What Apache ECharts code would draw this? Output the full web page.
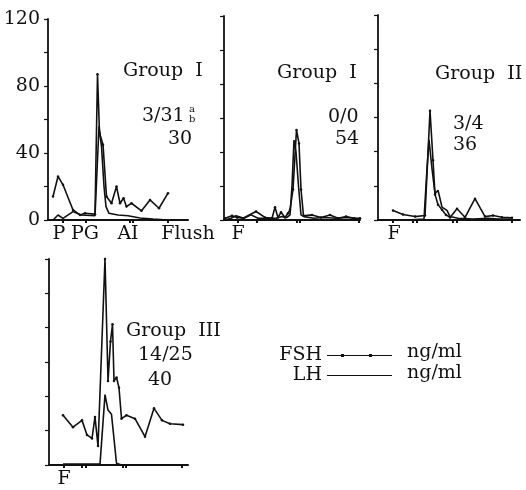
<!DOCTYPE html>
<html>
<head>
<meta charset="utf-8">
<script src="https://cdn.jsdelivr.net/npm/echarts@6/dist/echarts.min.js"></script>
<style>
  html, body { margin: 0; padding: 0; background: #fff; }
  #chart { width: 526px; height: 490px; }
</style>
</head>
<body>
<div id="chart"></div>
<script>
// Hormone profiles (ng/ml) against time for each treatment group.
// x = time along each panel's axis, y = concentration.

// Group I (P / PG / AI / Flush protocol)
const fsh1 = [[5,14],[10,26],[15,21],[25,6],[32,3],[37,4],[47,3.5],[49.5,87],[51.5,52],[55,45],[58.5,14],[63.5,10],[68.5,20],[72,10],[75.5,13],[78.5,8],[83.5,10],[93.5,5.5],[102,12],[111,7],[120,16]];
const lh1  = [[5,0],[10,3],[15,1],[25,5],[33,3],[47,2.5],[51,56],[53.5,44],[56,20],[58,8],[61,4],[70,3],[80,2.5],[92,1.2],[105,0.5],[120,0]];

// Group I, second set
const fsh2 = [[1,1],[8,2.5],[13,1.5],[19,1],[32,5],[41,1.5],[48,1],[51,7.5],[54,1.5],[57,4.5],[61,1.5],[64,4],[66,6],[69,18],[72.5,53],[75,45],[77,18],[79.5,2.5],[88,3],[97,1.5],[106,3],[114,1],[122,2],[130,1],[136,1]];
const lh2  = [[1,0],[7,1],[12,2.5],[20,1],[27,3],[34,1],[44,1],[52,1],[58,2],[63,1.5],[66,3],[68,20],[70,47],[72,40],[74.5,20],[77,3],[80,2],[90,1],[100,1.5],[112,1],[124,1.5],[136,0.5]];

// Group II
const fsh3 = [[15,5.6],[25,3.2],[37,2],[47,2.6],[52,64],[55,35],[57,15],[60,9],[64,6],[68,3],[72,1.5],[79,6.6],[87,1.6],[97,12.5],[107,2],[115,2.6],[124,1.6],[134,1.3]];
const lh3  = [[15,0],[30,0],[46,0.5],[49,30],[51,47],[54,30],[57,15.4],[60,17.4],[64,7.5],[69,5.6],[72,2],[80,1],[95,0.5],[110,1],[120,0.5],[134,0.5]];

// Group III
const fsh4 = [[14,29],[24,22],[33,26],[38,17.5],[43,15.5],[46,28],[49,11],[56,120],[59,49],[61.5,72],[63.5,82],[65,49],[67.5,51],[70,45],[72.5,27],[77.5,29],[86,27],[96,16.5],[105,33],[113,26],[121,24],[134,23.5]];
const lh4  = [[14,0.5],[30,0.5],[45,0.5],[51,0.5],[56,41],[59,32],[62.5,29.5],[67.5,1],[72.5,0],[100,0],[134,0]];

// Event markers on the time axes and their labels
const ticks1 = [15, 38, 82, 85, 120];
const labelPos1 = [11, 37, 80, 140];
const labels1 = ['P', 'PG', 'AI', 'Flush'];
const ticks2 = [14, 33, 73, 76, 135];
const ticks3 = [15, 35, 39, 75, 79, 134];
const ticks4 = [15, 33, 37, 74, 77, 133];
const labelPosF = [15];
const labelsF = ['F'];

// Concentration axis
const yMax = 120;
const yStep = 20;
const yLabelValues = [0, 40, 80, 120];

// Panel annotations: group name, ratio, count
const groupNames = ['Group  I', 'Group  I', 'Group  II', 'Group  III'];
const ratios = ['3/31', '0/0', '3/4', '14/25'];
const counts = ['30', '54', '36', '40'];

const FONT = '"DejaVu Serif", "Liberation Serif", serif';
const INK = '#111';

const panels = [
  { fsh: fsh1, lh: lh1, max: 140, ticks: ticks1, lp: labelPos1, lt: labels1, yLabels: true,
    box: { left: 48, top: 19, width: 140, height: 201 } },
  { fsh: fsh2, lh: lh2, max: 136, ticks: ticks2, lp: [14], lt: labelsF, yLabels: false,
    box: { left: 224, top: 16, width: 136, height: 204 } },
  { fsh: fsh3, lh: lh3, max: 142, ticks: ticks3, lp: [16], lt: labelsF, yLabels: false,
    box: { left: 378, top: 15, width: 142, height: 205 } },
  { fsh: fsh4, lh: lh4, max: 139, ticks: ticks4, lp: labelPosF, lt: labelsF, yLabels: false,
    box: { left: 49, top: 259, width: 139, height: 206 } }
];

const grid = [], xAxis = [], yAxis = [], series = [];
panels.forEach((p, i) => {
  grid.push(Object.assign({ containLabel: false }, p.box));
  xAxis.push({
    type: 'value', gridIndex: i, min: 0, max: p.max,
    axisLine: { show: true, lineStyle: { color: INK, width: 2 } },
    splitLine: { show: false },
    axisTick: { show: true, customValues: p.ticks, length: 3, inside: false,
                lineStyle: { color: INK, width: 2 } },
    axisLabel: { show: true, customValues: p.lp, margin: 5,
                 formatter: v => p.lt[p.lp.indexOf(v)] || '',
                 color: INK, fontFamily: FONT, fontSize: 19 }
  });
  yAxis.push({
    type: 'value', gridIndex: i, min: 0, max: yMax, interval: yStep,
    axisLine: { show: true, onZero: false, lineStyle: { color: INK, width: 1.8 } },
    splitLine: { show: false },
    axisTick: { show: true, length: 4, inside: false, lineStyle: { color: INK, width: 1.2 } },
    axisLabel: { show: p.yLabels, customValues: yLabelValues, margin: 8,
                 color: INK, fontFamily: FONT, fontSize: 19 }
  });
  series.push({
    name: 'FSH', type: 'line', xAxisIndex: i, yAxisIndex: i, data: p.fsh,
    symbol: 'circle', symbolSize: 2.5, showSymbol: true,
    lineStyle: { color: INK, width: 1.6 }, itemStyle: { color: INK },
    animation: false, z: 3
  });
  series.push({
    name: 'LH', type: 'line', xAxisIndex: i, yAxisIndex: i, data: p.lh,
    symbol: 'none', lineStyle: { color: INK, width: 1.6 }, itemStyle: { color: INK },
    animation: false, z: 2
  });
});

// Annotation anchors (left x, middle y) for each panel's text block
const notePos = [
  { g: [123, 71], r: [142, 116], c: [168, 139] },
  { g: [277, 73], r: [328, 117], c: [335, 139] },
  { g: [435, 74], r: [453, 124], c: [453, 145] },
  { g: [126, 331], r: [138, 355], c: [148, 380] }
];

const textEl = (txt, x, y, size) => ({
  type: 'text', x: x, y: y, silent: true,
  style: { text: txt, font: (size || 19) + 'px ' + FONT, fill: INK,
           textAlign: 'left', textVerticalAlign: 'middle' }
});

const graphic = [];
notePos.forEach((n, i) => {
  graphic.push(textEl(groupNames[i], n.g[0], n.g[1]));
  graphic.push(textEl(ratios[i], n.r[0], n.r[1]));
  graphic.push(textEl(counts[i], n.c[0], n.c[1]));
});
// superscript / subscript marks on the first ratio
graphic.push(textEl('a', 189, 109, 10));
graphic.push(textEl('b', 189, 119, 10));
// units beside the legend
graphic.push(textEl('ng/ml', 407, 352));
graphic.push(textEl('ng/ml', 407, 373));

const fshIcon = 'path://M0,1.5H65V2.5H0Z M14,0.5H17V3.5H14Z M42,0.5H45V3.5H42Z';
const lhIcon = 'path://M0,0H65V1.2H0Z';
const legendText = { color: INK, fontFamily: FONT, fontSize: 19 };

const option = {
  backgroundColor: '#fff',
  animation: false,
  grid, xAxis, yAxis, series, graphic,
  legend: [
    { data: ['FSH'], orient: 'vertical', align: 'right', right: 129, top: 341,
      itemWidth: 65, itemHeight: 3, icon: fshIcon, selectedMode: false, textStyle: legendText },
    { data: ['LH'], orient: 'vertical', align: 'right', right: 129, top: 361,
      itemWidth: 65, itemHeight: 1.2, icon: lhIcon, selectedMode: false, textStyle: legendText }
  ]
};

const chart = echarts.init(document.getElementById('chart'), null, { renderer: 'canvas' });
chart.setOption(option);
</script>
</body>
</html>
